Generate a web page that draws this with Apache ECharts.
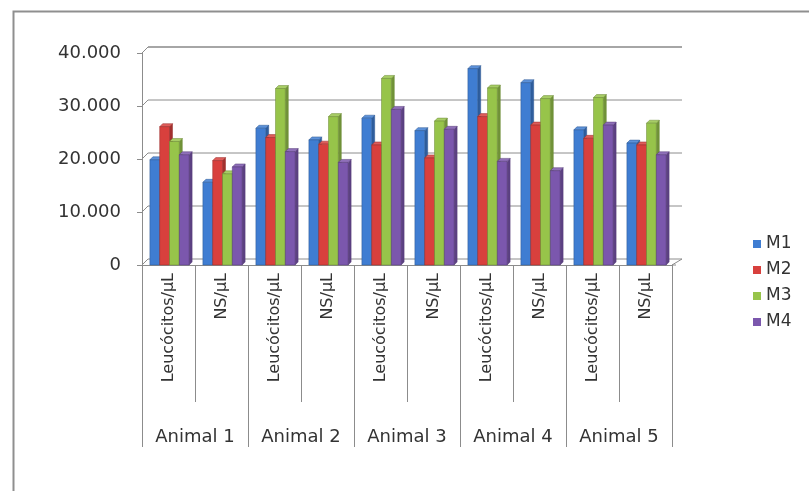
<!DOCTYPE html>
<html>
<head>
<meta charset="utf-8">
<script src="https://cdn.jsdelivr.net/npm/echarts@6/dist/echarts.min.js"></script>
<style>
  html, body { margin: 0; padding: 0; background: #ffffff; }
  #chart { width: 809px; height: 491px; }
</style>
</head>
<body>
<div id="chart"></div>
<script>
// Blood counts per animal: leucocytes and segmented neutrophils per µL, four samplings
const animals = ['Animal 1', 'Animal 2', 'Animal 3', 'Animal 4', 'Animal 5'];
const measures = ['Leucócitos/µL', 'NS/µL'];
const seriesNames = ['M1', 'M2', 'M3', 'M4'];
const m1 = [19850, 15600, 25800, 23600, 27700, 25350, 37050, 34400, 25500, 23000];
const m2 = [26100, 19700, 24050, 22800, 22650, 20200, 28000, 26400, 23900, 22650];
const m3 = [23300, 17200, 33300, 28000, 35200, 27150, 33400, 31400, 31600, 26750];
const m4 = [20800, 18500, 21400, 19350, 29350, 25600, 19550, 17800, 26400, 20800];
const yTicks = [0, 10000, 20000, 30000, 40000];

const colors = ['#3f7dd2', '#d8403d', '#97c44a', '#7b57ad'];
const FONT = 'DejaVu Sans';
const TEXT = '#333333';
const DEPTH_X = 6, DEPTH_Y = -6;   // back wall offset
const BAR_DX = 3, BAR_DY = -3;     // bar depth

const categories = [];
animals.forEach(() => measures.forEach(m => categories.push(m)));
const values = [m1, m2, m3, m4];

function shade(hex, f) {
  const n = parseInt(hex.slice(1), 16);
  let r = (n >> 16) & 255, g = (n >> 8) & 255, b = n & 255;
  if (f < 0) { r *= 1 + f; g *= 1 + f; b *= 1 + f; }
  else { r += (255 - r) * f; g += (255 - g) * f; b += (255 - b) * f; }
  return 'rgb(' + Math.round(r) + ',' + Math.round(g) + ',' + Math.round(b) + ')';
}

function fmt(v) {
  return String(v).replace(/\B(?=(\d{3})+(?!\d))/g, '.');
}

// back wall gridlines, side-wall diagonals and floor edge
const wallSeries = {
  type: 'custom',
  silent: true,
  z: 1,
  data: yTicks.map(v => [0, v]),
  renderItem(params, api) {
    const cs = params.coordSys;
    const y = api.coord([0, api.value(1)])[1];
    const x0 = cs.x, x1 = cs.x + cs.width;
    const isTop = api.value(1) === yTicks[yTicks.length - 1];
    const children = [
      { type: 'line', shape: { x1: x0 + DEPTH_X, y1: y + DEPTH_Y, x2: x1 + DEPTH_X + 4, y2: y + DEPTH_Y },
        style: { stroke: isTop ? '#a6a6a6' : '#8c8c8c', lineWidth: isTop ? 2 : 1 } },
      { type: 'line', shape: { x1: x0, y1: y, x2: x0 + DEPTH_X, y2: y + DEPTH_Y },
        style: { stroke: '#8c8c8c', lineWidth: 1 } }
    ];
    if (api.value(1) === 0) {
      children.push({ type: 'line', shape: { x1: x1, y1: y, x2: x1 + DEPTH_X + 4, y2: y + DEPTH_Y },
        style: { stroke: '#8c8c8c', lineWidth: 1 } });
      children.push({ type: 'line', shape: { x1: x1, y1: y, x2: x1 + 4, y2: y },
        style: { stroke: '#8c8c8c', lineWidth: 1 } });
    }
    return { type: 'group', children };
  }
};

function barSeries(idx) {
  const color = colors[idx];
  return {
    name: seriesNames[idx],
    type: 'custom',
    z: 3,
    itemStyle: { color },
    data: values[idx].map((v, k) => [k, v]),
    renderItem(params, api) {
      const top = api.coord([api.value(0), api.value(1)]);
      const base = api.coord([api.value(0), 0]);
      const band = api.size([1, 0])[0];
      const w = band * 0.185;
      const x = top[0] - 2 * w + idx * w + 1;
      const yT = top[1], yB = base[1];
      const edge = shade(color, -0.3);
      return {
        type: 'group',
        children: [
          { type: 'polygon',
            shape: { points: [[x + w, yB], [x + w + BAR_DX, yB + BAR_DY], [x + w + BAR_DX, yT + BAR_DY], [x + w, yT]] },
            style: { fill: shade(color, -0.25), stroke: edge, lineWidth: 0.5 } },
          { type: 'polygon',
            shape: { points: [[x, yT], [x + BAR_DX, yT + BAR_DY], [x + w + BAR_DX, yT + BAR_DY], [x + w, yT]] },
            style: { fill: shade(color, 0.15), stroke: edge, lineWidth: 0.5 } },
          { type: 'rect',
            shape: { x: x, y: yT, width: w, height: yB - yT },
            style: { fill: color, stroke: edge, lineWidth: 0.5 } }
        ]
      };
    }
  };
}

const chart = echarts.init(document.getElementById('chart'), null, { renderer: 'canvas' });

chart.setOption({
  backgroundColor: '#ffffff',
  animation: false,
  textStyle: { fontFamily: FONT },
  grid: { left: 142, right: 137, top: 53, bottom: 226, containLabel: false },
  legend: {
    orient: 'vertical',
    left: 748,
    top: 230,
    itemWidth: 8,
    itemHeight: 8,
    itemGap: 8,
    icon: 'rect',
    data: seriesNames,
    textStyle: { fontFamily: FONT, fontSize: 17, color: TEXT, lineHeight: 18 }
  },
  xAxis: [
    {
      type: 'category',
      data: categories,
      axisLine: { show: true, lineStyle: { color: '#8c8c8c', width: 1 } },
      axisTick: { show: true, interval: 0, length: 137, lineStyle: { color: '#8c8c8c' } },
      axisLabel: {
        interval: 0, rotate: 90, margin: 8,
        fontFamily: FONT, fontSize: 16, color: TEXT
      },
      splitLine: { show: false }
    },
    {
      type: 'category',
      position: 'bottom',
      data: animals,
      axisLine: { show: false },
      axisTick: { show: true, interval: 0, length: 182, lineStyle: { color: '#8c8c8c' } },
      axisLabel: { interval: 0, margin: 163, fontFamily: FONT, fontSize: 18, color: TEXT },
      splitLine: { show: false }
    }
  ],
  yAxis: {
    type: 'value',
    min: 0,
    max: 40000,
    interval: 10000,
    axisLine: { show: true, lineStyle: { color: '#8c8c8c' } },
    axisTick: { show: true, length: 5, lineStyle: { color: '#8c8c8c' } },
    axisLabel: { margin: 21, fontFamily: FONT, fontSize: 18, color: TEXT, formatter: fmt },
    splitLine: { show: false }
  },
  series: [wallSeries, barSeries(0), barSeries(1), barSeries(2), barSeries(3)],
  graphic: [
    { type: 'rect', left: 11, top: 9, shape: { x: 0, y: 0, width: 830, height: 500 },
      style: { fill: 'none', stroke: '#8f8f8f', lineWidth: 2 }, silent: true }
  ]
});
</script>
</body>
</html>
